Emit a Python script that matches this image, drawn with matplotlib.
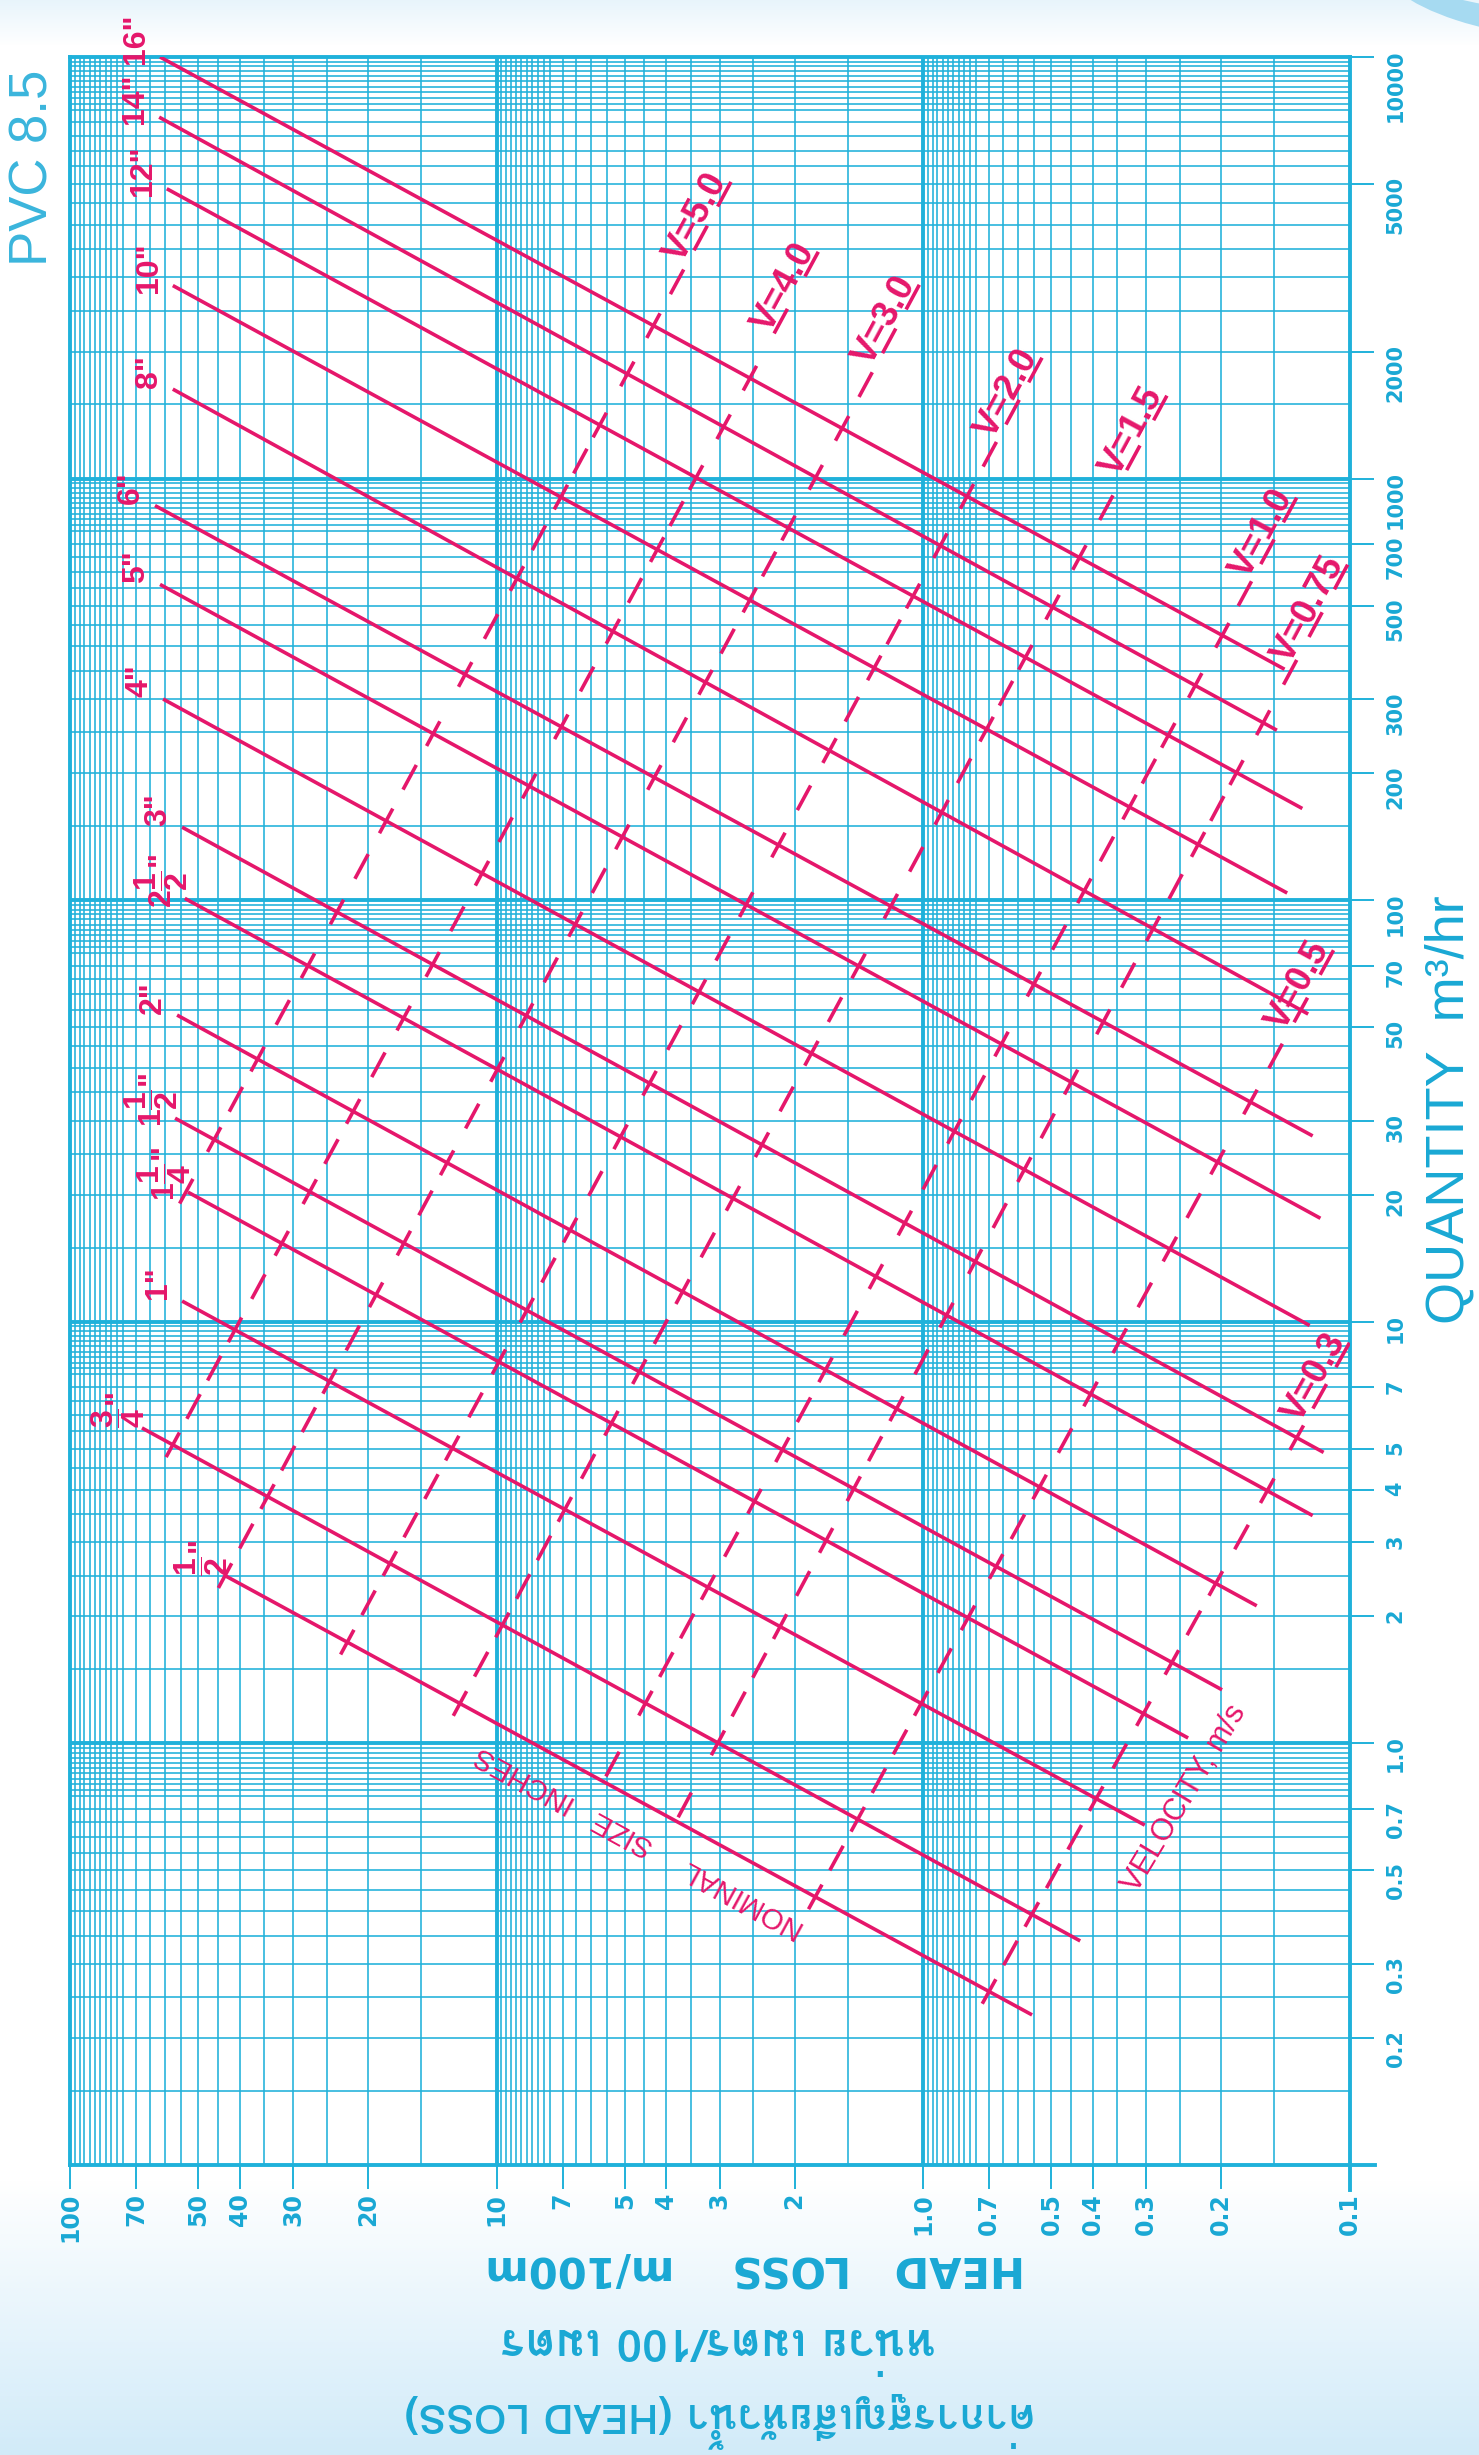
import numpy as np
import matplotlib
matplotlib.use("Agg")
import matplotlib.pyplot as plt
from matplotlib import font_manager
from matplotlib.ft2font import FT2Font
from matplotlib.ticker import NullLocator
from matplotlib.patches import Ellipse

# ---- values ----
# pipe lines: head loss (m/100m) and flow (m3/hr) at both ends
pipe_sizes = ['16"', '14"', '12"', '10"', '8"', '6"', '5"', '4"', '3"',
              r'2$\dfrac{1}{2}$"', '2"', r'1$\dfrac{1}{2}$"', r'1$\dfrac{1}{4}$"', '1"',
              r'$\dfrac{3}{4}$"', r'$\dfrac{1}{2}$"']
pipe_h_start = [61.5, 61.8, 59.3, 57.4, 57.4, 63.2, 61.5, 60.5, 54.6,
                53.8, 56.1, 56.7, 52.9, 54.6, 67.8, 43.3]
pipe_q_start = [10000, 7200, 4870, 2870, 1630, 863, 561, 300, 149,
                101, 53.4, 30.4, 20.3, 11.2, 5.6, 2.5]
pipe_h_end = [0.142, 0.148, 0.129, 0.140, 0.125, 0.122, 0.117, 0.124, 0.115,
              0.122, 0.165, 0.199, 0.239, 0.302, 0.428, 0.555]
pipe_q_end = [353, 253, 165, 104, 53.7, 27.6, 17.6, 9.8, 4.9,
              3.47, 2.12, 1.34, 1.03, 0.64, 0.34, 0.227]

# velocity lines (m/s): lower and upper ends
vel_names = ['5.0', '4.0', '3.0', '2.0', '1.5', '1.0', '0.75', '0.5', '0.3']
vel_h_bot = [53.8, 57.4, 43.3, 22.3, 12.2, 5.54, 3.75, 1.79, 0.70]
vel_q_bot = [20.1, 5.11, 2.5, 1.75, 1.24, 0.835, 0.668, 0.432, 0.258]
vel_h_top = [2.82, 1.76, 1.02, 0.526, 0.268, 0.133, 0.101, 0.109, 0.1]
vel_q_top = [5055, 3451, 2882, 1935, 1573, 901, 625, 76.1, 8.92]

hl_ticks = [100, 70, 50, 40, 30, 20, 10, 7, 5, 4, 3, 2, 1, 0.7, 0.5, 0.4, 0.3, 0.2, 0.1]
hl_labels = ['100', '70', '50', '40', '30', '20', '10', '7', '5', '4', '3', '2',
             '1.0', '0.7', '0.5', '0.4', '0.3', '0.2', '0.1']
q_ticks = [10000, 5000, 2000, 1000, 700, 500, 300, 200, 100, 70, 50, 30, 20, 10,
           7, 5, 4, 3, 2, 1, 0.7, 0.5, 0.3, 0.2, 0.1]
q_labels = ['10000', '5000', '2000', '1000', '700', '500', '300', '200', '100', '70',
            '50', '30', '20', '10', '7', '5', '4', '3', '2', '1.0', '0.7', '0.5',
            '0.3', '0.2', '']

# grid lines inside each decade (log paper)
grid_mant = [1.5, 2, 2.5, 3, 3.5, 4, 4.5, 5, 5.5, 6, 6.5, 7, 7.5,
             7.75, 8, 8.25, 8.5, 8.75, 9, 9.25, 9.5, 9.75]

cyan = '#1fb1da'
cyan_txt = '#19a8d4'
pink = '#e5176b'
W, H = 1479, 2455

plt.rcParams['mathtext.fontset'] = 'custom'
plt.rcParams['mathtext.rm'] = 'Liberation Sans:bold'
plt.rcParams['mathtext.bf'] = 'Liberation Sans:bold'
plt.rcParams['mathtext.default'] = 'rm'


def find_font(ch):  # first installed font that has this glyph
    for f in font_manager.fontManager.ttflist:
        try:
            if ord(ch) in FT2Font(f.fname).get_charmap():
                return f.name
        except Exception:
            pass
    return None


thai = find_font('ก')
thai_family = [thai, 'DejaVu Sans'] if thai else ['DejaVu Sans']

fig = plt.figure(figsize=(W / 100, H / 100), dpi=100)

# background: white with a pale blue band at the bottom
bg = fig.add_axes([0, 0, 1, 1])
bg.axis('off')
rows = np.arange(H)
t = np.clip((rows - 2180) / 275.0, 0, 1)
top = np.clip((45 - rows) / 45.0, 0, 1) * 0.5
col = np.ones((H, 1, 3))
low = np.array([0.82, 0.92, 0.975])
for k in range(3):
    col[:, 0, k] = 1 - (1 - low[k]) * np.maximum(t, top)
bg.imshow(col, aspect='auto', extent=[0, W, 0, H])
bg.add_patch(Ellipse((1640, H + 40), 520, 170, color='#a6daf1', lw=0))
bg.add_patch(Ellipse((1610, H + 70), 520, 170, color='#eaf5fb', lw=0))
bg.set_xlim(0, W)
bg.set_ylim(0, H)

ax = fig.add_axes([70 / W, 1 - 2165 / H, 1279.5 / W, (2165 - 57) / H])
ax.set_xscale('log')
ax.set_yscale('log')
ax.set_xlim(100, 0.1)
ax.set_ylim(0.1, 10000)
ax.patch.set_alpha(0)

for dec in [0.1, 1, 10]:
    for m in grid_mant:
        ax.axvline(dec * m, color=cyan, lw=1.15, zorder=1)
for dec in [0.1, 1, 10, 100, 1000]:
    for m in grid_mant:
        ax.axhline(dec * m, color=cyan, lw=1.15, zorder=1)
for v in [1, 10]:
    ax.axvline(v, color=cyan, lw=2.8, zorder=1)
for v in [1, 10, 100, 1000]:
    ax.axhline(v, color=cyan, lw=2.8, zorder=1)

for s in ax.spines.values():
    s.set_color(cyan)
    s.set_linewidth(2.8)

tick_font = dict(fontweight='bold', family='DejaVu Sans')
ax.set_xticks(hl_ticks)
ax.set_xticklabels(hl_labels, rotation=90, **tick_font)
ax.set_yticks(q_ticks)
ax.set_yticklabels(q_labels, rotation=90, **tick_font)
ax.xaxis.set_minor_locator(NullLocator())
ax.yaxis.set_minor_locator(NullLocator())
ax.yaxis.tick_right()
ax.tick_params(axis='x', direction='out', length=17, width=1.4, color=cyan,
               pad=3, labelsize=17, labelcolor=cyan_txt)
ax.tick_params(axis='y', direction='out', length=17, width=1.4, color=cyan,
               pad=9, labelsize=15, labelcolor=cyan_txt)
ax.plot([1, 1.02], [0, 0], transform=ax.transAxes, clip_on=False, color=cyan, lw=2.8)
ax.plot([1, 1], [0, -0.012], transform=ax.transAxes, clip_on=False, color=cyan, lw=2.8)

# pipe lines
for i, name in enumerate(pipe_sizes):
    ax.plot([pipe_h_start[i], pipe_h_end[i]], [pipe_q_start[i], pipe_q_end[i]],
            color=pink, lw=2.6, solid_capstyle='butt', zorder=3)
    ax.annotate(name, (pipe_h_start[i], pipe_q_start[i]), xytext=(-24, 18),
                textcoords='offset pixels', rotation=90, ha='center', va='center',
                fontsize=23, fontweight='bold', color=pink, family='Liberation Sans',
                zorder=4)

# velocity lines: dashes centred on each crossing with a pipe line
pipe_px = [(ax.transData.transform((pipe_h_start[i], pipe_q_start[i])),
            ax.transData.transform((pipe_h_end[i], pipe_q_end[i])))
           for i in range(len(pipe_sizes))]
inv = ax.transData.inverted()
dash = 28.0
step = 52.0
for j, name in enumerate(vel_names):
    a = ax.transData.transform((vel_h_bot[j], vel_q_bot[j]))
    b = ax.transData.transform((vel_h_top[j], vel_q_top[j]))
    L = np.hypot(*(b - a))
    u = (b - a) / L
    ts = []
    for p0, p1 in pipe_px:
        e = p1 - p0
        M = np.array([[u[0], -e[0]], [u[1], -e[1]]])
        tt, ss = np.linalg.solve(M, p0 - a)
        if -4 <= tt <= L + 4 and -0.01 <= ss <= 1.01:
            ts.append(tt)
    ts = sorted(ts)
    anchors = []
    if not ts or ts[0] > dash:
        anchors.append(dash / 2)
    anchors += ts
    if L - dash / 2 - anchors[-1] > 20:
        anchors.append(L - dash / 2)
    centers = []
    for k in range(len(anchors) - 1):
        d = anchors[k + 1] - anchors[k]
        n = max(1, int(round(d / step)))
        centers += list(anchors[k] + d * np.arange(n) / n)
    centers.append(anchors[-1])
    for c in centers:
        p = inv.transform([a + u * (c - dash / 2), a + u * (c + dash / 2)])
        ax.plot(p[:, 0], p[:, 1], color=pink, lw=2.6, solid_capstyle='butt', zorder=3)
    ang = np.degrees(np.arctan2(u[1], u[0]))
    perp = np.array([-u[1], u[0]])
    lp = inv.transform(b + perp * 4)
    ax.text(lp[0], lp[1], 'V=' + name, rotation=ang, rotation_mode='anchor',
            ha='right', va='baseline', fontsize=26, fontweight='bold', color=pink,
            family='Liberation Sans', zorder=4)

fig.text(640 / W, 1 - 1842 / H, 'NOMINAL     SIZE   INCHES', rotation=151.3,
         ha='center', va='center', fontsize=21, color=pink, family='Liberation Sans')
fig.text(1185 / W, 1 - 1798 / H, 'VELOCITY, m/s', rotation=59,
         ha='center', va='center', fontsize=22, color=pink, family='Liberation Sans')

fig.text(34 / W, 1 - 168 / H, 'PVC 8.5', rotation=90, ha='center', va='center',
         fontsize=38, color='#3ab5dc', family='Liberation Sans')
fig.text(1450 / W, 1 - 1110 / H, 'QUANTITY  m³/hr', rotation=90, ha='center',
         va='center', fontsize=39, color=cyan_txt, family='Liberation Sans')
fig.text(755 / W, 1 - 2268 / H, 'HEAD   LOSS    m/100m', rotation=180, ha='center',
         va='center', fontsize=30, fontweight='bold', color=cyan_txt, family='DejaVu Sans')
fig.text(718 / W, 1 - 2343 / H, 'หน่วย เมตร/100 เมตร', rotation=180, ha='center',
         va='center', fontsize=33, fontweight='bold', color=cyan_txt, family=thai_family)
fig.text(720 / W, 1 - 2420 / H, 'ค่าการสูญเสียหัวน้ำ (HEAD LOSS)', rotation=180,
         ha='center', va='center', fontsize=30, fontweight='bold', color=cyan_txt,
         family=thai_family)

fig.savefig('out.png', dpi=100)
